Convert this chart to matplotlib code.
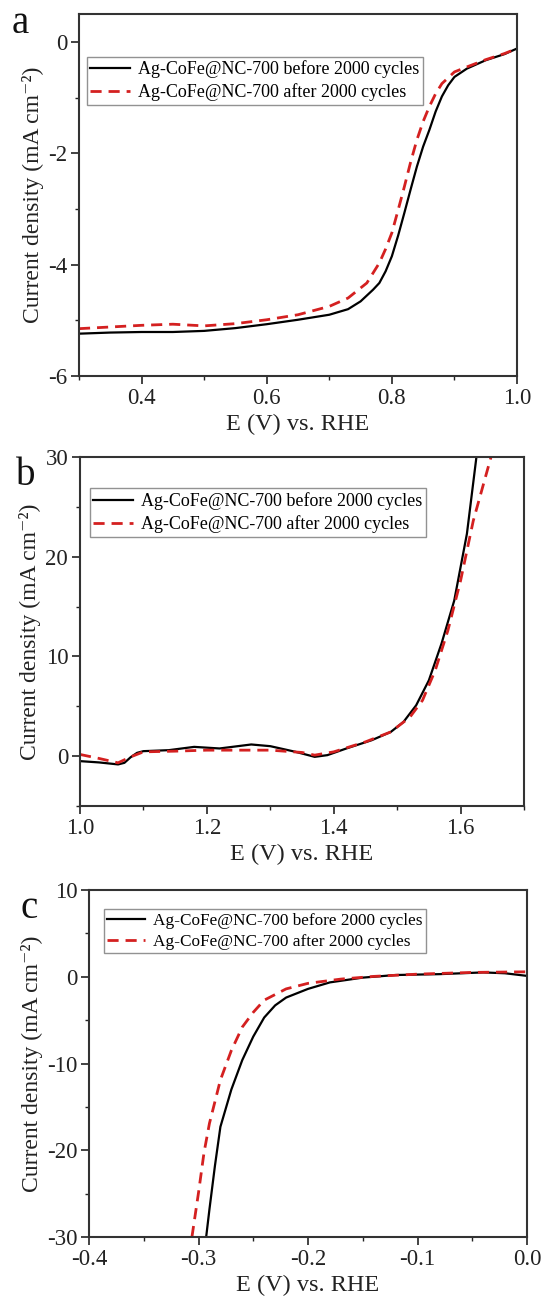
import matplotlib
matplotlib.use("Agg")
import matplotlib.pyplot as plt
from matplotlib.ticker import MultipleLocator, FormatStrFormatter

plt.rcParams['font.family'] = ['Liberation Serif', 'DejaVu Serif']

lab_before = 'Ag-CoFe@NC-700 before 2000 cycles'
lab_after = 'Ag-CoFe@NC-700 after 2000 cycles'

# panel a (ORR)
a_x_before = [0.30, 0.35, 0.40, 0.45, 0.50, 0.55, 0.60, 0.65, 0.70, 0.73, 0.75, 0.77, 0.78, 0.79, 0.80,
              0.81, 0.82, 0.83, 0.84, 0.85, 0.86, 0.87, 0.88, 0.89, 0.90, 0.92, 0.95, 0.98, 1.00]
a_y_before = [-5.24, -5.22, -5.21, -5.21, -5.19, -5.14, -5.07, -4.99, -4.90, -4.80, -4.66, -4.45, -4.33, -4.12, -3.85,
              -3.48, -3.07, -2.65, -2.24, -1.88, -1.58, -1.25, -0.98, -0.78, -0.63, -0.48, -0.33, -0.22, -0.12]
a_x_after = [0.30, 0.35, 0.40, 0.45, 0.50, 0.55, 0.60, 0.65, 0.70, 0.73, 0.76, 0.78, 0.79, 0.80,
             0.81, 0.82, 0.83, 0.84, 0.85, 0.86, 0.87, 0.88, 0.90, 0.92, 0.95, 0.98, 1.00]
a_y_after = [-5.15, -5.12, -5.09, -5.07, -5.10, -5.06, -4.99, -4.90, -4.75, -4.60, -4.33, -3.97, -3.72, -3.43,
             -3.02, -2.60, -2.16, -1.76, -1.43, -1.16, -0.93, -0.75, -0.54, -0.45, -0.32, -0.21, -0.12]

# panel b (OER)
b_x_before = [1.00, 1.03, 1.06, 1.07, 1.08, 1.09, 1.10, 1.14, 1.18, 1.22, 1.24, 1.27, 1.30, 1.34, 1.37,
              1.39, 1.42, 1.46, 1.49, 1.51, 1.53, 1.55, 1.57, 1.59, 1.61, 1.625]
b_y_before = [-0.50, -0.63, -0.83, -0.67, -0.10, 0.33, 0.50, 0.60, 0.93, 0.77, 0.93, 1.17, 1.00, 0.43, -0.07,
              0.10, 0.77, 1.60, 2.43, 3.43, 5.10, 7.60, 11.3, 15.6, 22.3, 30.0]
b_x_after = [1.00, 1.03, 1.06, 1.08, 1.10, 1.15, 1.20, 1.25, 1.30, 1.35, 1.37, 1.40, 1.45, 1.49, 1.52,
             1.54, 1.56, 1.58, 1.60, 1.62, 1.648]
b_y_after = [0.17, -0.23, -0.67, -0.07, 0.43, 0.50, 0.60, 0.60, 0.60, 0.37, 0.10, 0.43, 1.43, 2.43, 3.90,
             5.60, 8.60, 12.6, 17.6, 23.6, 30.0]

# panel c (HER)
c_x_before = [-0.293, -0.29, -0.285, -0.28, -0.27, -0.26, -0.25, -0.24, -0.23, -0.22, -0.20, -0.18, -0.15,
              -0.12, -0.08, -0.04, -0.02, 0.00]
c_y_before = [-30.0, -26.8, -21.8, -17.3, -13.0, -9.6, -6.9, -4.7, -3.3, -2.4, -1.4, -0.65, -0.1,
              0.2, 0.3, 0.5, 0.4, 0.1]
c_x_after = [-0.306, -0.30, -0.295, -0.29, -0.28, -0.27, -0.26, -0.25, -0.24, -0.22, -0.20, -0.17, -0.14,
             -0.10, -0.05, 0.00]
c_y_after = [-30.0, -24.9, -20.3, -16.9, -11.9, -8.5, -5.8, -4.1, -2.7, -1.4, -0.76, -0.27, 0.04,
             0.3, 0.5, 0.57]

W, H = 542, 1300
fig = plt.figure(figsize=(W / 100, H / 100), dpi=100)


def px_axes(left, right, top, bottom):
    return fig.add_axes([left / W, 1 - bottom / H, (right - left) / W, (bottom - top) / H])


# axes box, limits, tick steps, panel letter + position (px), legend anchor, legend size
panels = [
    (px_axes(79, 517, 14, 376), a_x_before, a_y_before, a_x_after, a_y_after,
     (0.3, 1.0), (-6, 0.5), 0.2, 0.1, 2, 1, 'a', (12, 33), (0.018, 0.882), 13),
    (px_axes(80, 524, 457, 806), b_x_before, b_y_before, b_x_after, b_y_after,
     (1.0, 1.7), (-5, 30), 0.2, 0.1, 10, 5, 'b', (16, 485), (0.022, 0.91), 13),
    (px_axes(89, 527, 890, 1237), c_x_before, c_y_before, c_x_after, c_y_after,
     (-0.4, 0.0), (-30, 10), 0.1, 0.05, 10, 5, 'c', (20, 918), (0.034, 0.945), 12.4),
]

for (ax, xb, yb, xa, ya, xlim, ylim, xmaj, xmin, ymaj, ymin, letter, lpos, legpos, legfs) in panels:
    ax.plot(xb, yb, color='black', lw=1.6, label=lab_before)
    ax.plot(xa, ya, color='#d42020', lw=2.0, ls=(0, (4, 2.5)), label=lab_after)
    ax.set_xlim(xlim)
    ax.set_ylim(ylim)
    ax.xaxis.set_major_locator(MultipleLocator(xmaj))
    ax.xaxis.set_minor_locator(MultipleLocator(xmin))
    ax.yaxis.set_major_locator(MultipleLocator(ymaj))
    ax.yaxis.set_minor_locator(MultipleLocator(ymin))
    ax.xaxis.set_major_formatter(FormatStrFormatter('%.1f'))
    ax.yaxis.set_major_formatter(FormatStrFormatter('%d'))
    ax.tick_params(which='major', direction='out', length=6, width=1.2, labelsize=16.5, colors='#222222',
                   pad=2.5, top=False, right=False)
    ax.tick_params(which='minor', direction='out', length=3, width=1.0, colors='#222222', top=False, right=False)
    for s in ax.spines.values():
        s.set_linewidth(1.5)
        s.set_color('#333333')
    ax.set_xlabel('E (V) vs. RHE', fontsize=17.5, labelpad=4, color='#222222')
    ax.set_ylabel('Current density (mA cm\u207b\u00b2)', fontsize=17, labelpad=3, color='#222222')
    leg = ax.legend(loc='upper left', bbox_to_anchor=legpos,
                    fontsize=legfs, frameon=True, fancybox=False, borderpad=0.2, labelspacing=0.3,
                    handlelength=2.2, handletextpad=0.45, borderaxespad=0.0)
    leg.get_frame().set_edgecolor('#777777')
    leg.get_frame().set_linewidth(1.0)
    fig.text(lpos[0] / W, 1 - lpos[1] / H, letter, fontsize=28, ha='left', va='baseline', color='#111111')

fig.savefig('out.png', dpi=100)
